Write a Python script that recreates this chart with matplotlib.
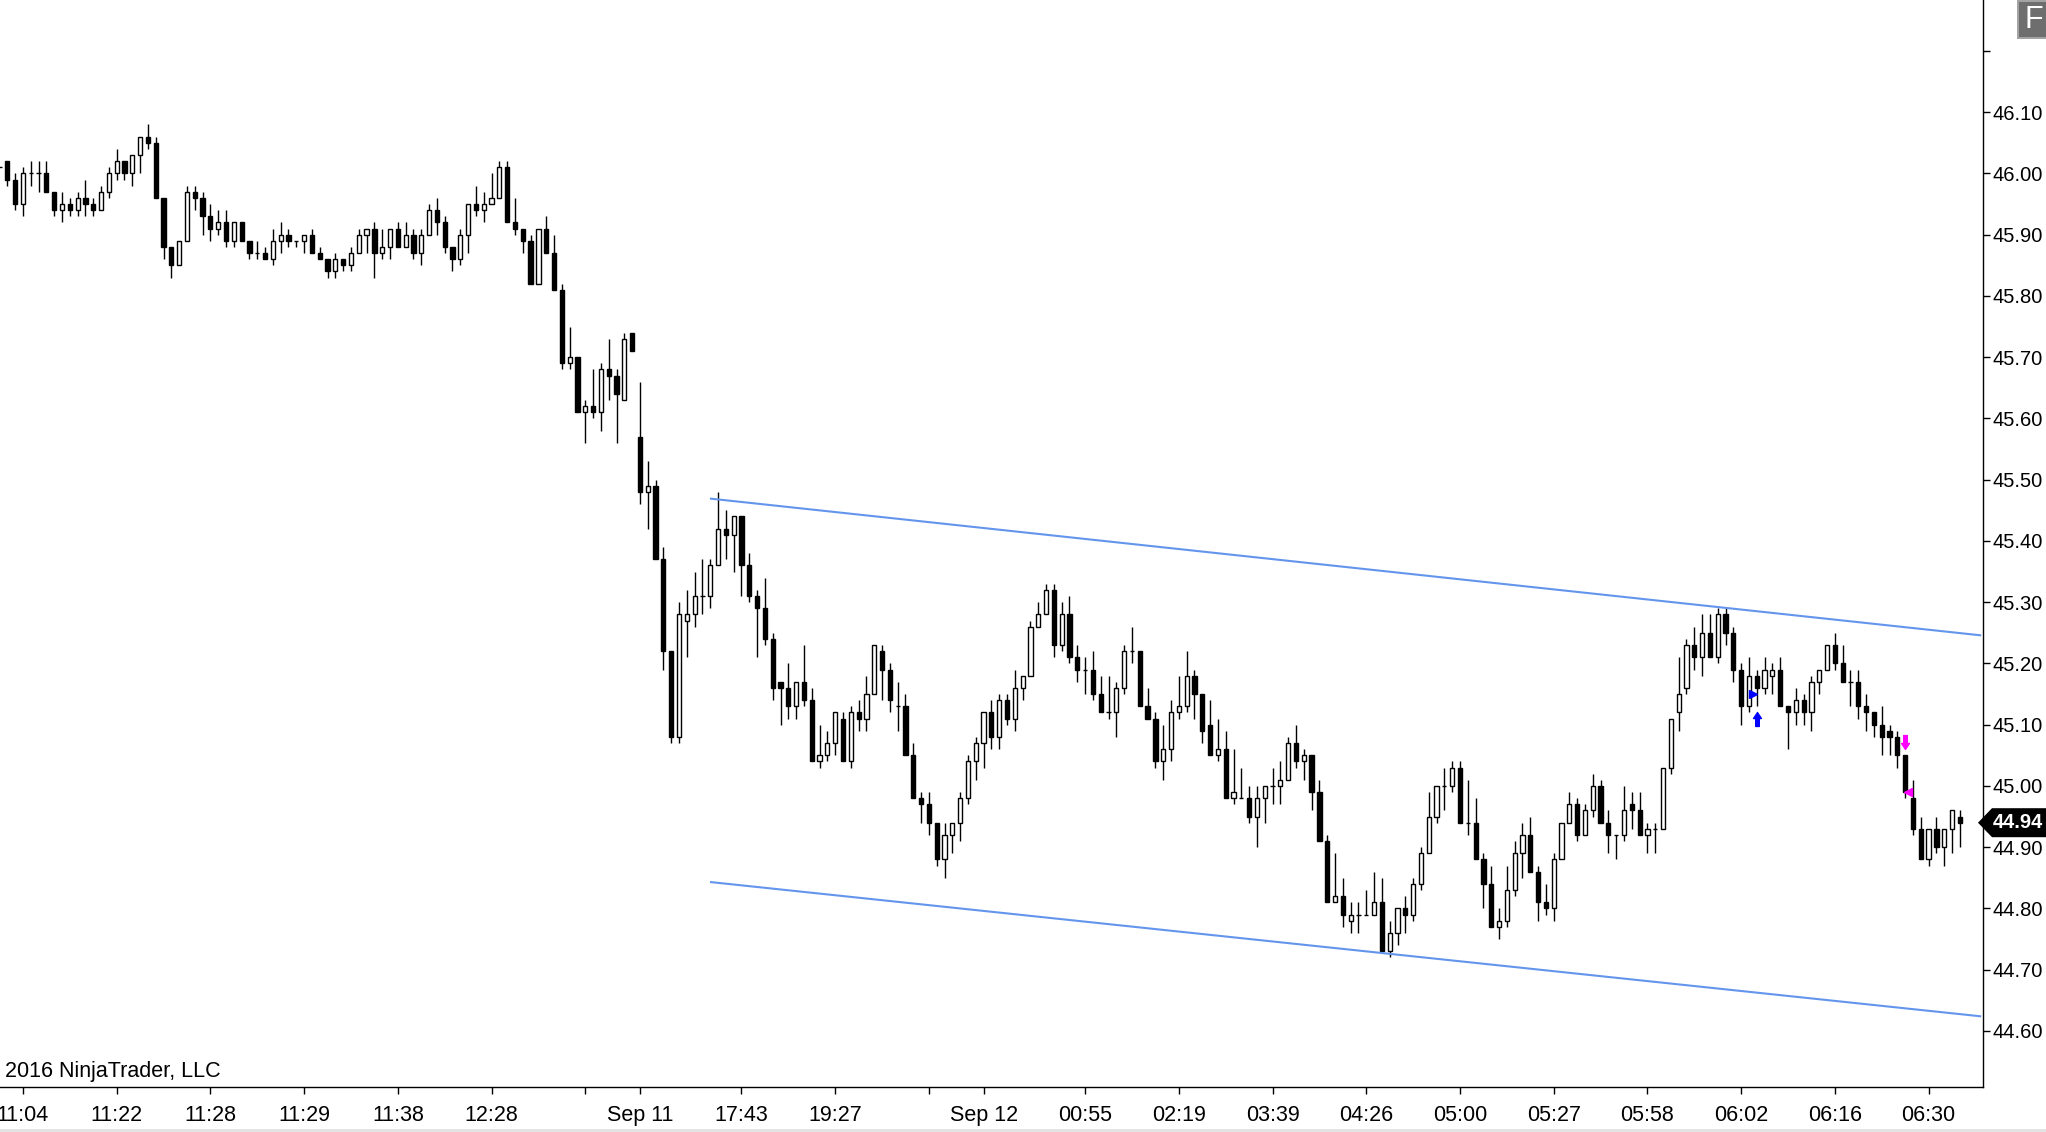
import matplotlib
matplotlib.use("Agg")
import matplotlib.pyplot as plt
import numpy as np
from matplotlib.path import Path
from matplotlib.patches import Polygon, Rectangle

plt.rcParams['font.family'] = ['Liberation Sans', 'DejaVu Sans']

# ---------------- data (OHLC, one bar per entry) ----------------
opens = [46.01, 46.02, 45.99, 45.95, 46.00, 46.00, 46.00, 45.97, 45.94, 45.95,
         45.94, 45.96, 45.95, 45.94, 45.97, 46.00, 46.02, 46.00, 46.03, 46.06,
         46.05, 45.96, 45.88, 45.85, 45.89, 45.97, 45.96, 45.93, 45.91, 45.92,
         45.89, 45.92, 45.89, 45.87, 45.87, 45.86, 45.89, 45.90, 45.89, 45.89,
         45.90, 45.87, 45.86, 45.84, 45.86, 45.85, 45.87, 45.90, 45.91, 45.87,
         45.88, 45.91, 45.88, 45.90, 45.87, 45.90, 45.94, 45.92, 45.88, 45.86,
         45.90, 45.95, 45.94, 45.95, 45.96, 46.01, 45.92, 45.91, 45.89, 45.82,
         45.91, 45.87, 45.81, 45.69, 45.70, 45.61, 45.62, 45.61, 45.68, 45.67,
         45.63, 45.74, 45.57, 45.48, 45.49, 45.37, 45.22, 45.08, 45.27, 45.28,
         45.31, 45.31, 45.36, 45.42, 45.41, 45.44, 45.36, 45.31, 45.29, 45.24,
         45.17, 45.16, 45.13, 45.17, 45.14, 45.04, 45.05, 45.07, 45.11, 45.04,
         45.12, 45.11, 45.15, 45.22, 45.19, 45.13, 45.13, 45.05, 44.98, 44.97,
         44.94, 44.88, 44.92, 44.94, 44.98, 45.04, 45.07, 45.12, 45.08, 45.14,
         45.11, 45.16, 45.18, 45.26, 45.28, 45.32, 45.23, 45.28, 45.21, 45.19,
         45.19, 45.15, 45.12, 45.12, 45.16, 45.22, 45.22, 45.13, 45.11, 45.04,
         45.06, 45.12, 45.13, 45.18, 45.15, 45.10, 45.05, 45.06, 44.98, 44.98,
         44.98, 44.95, 44.98, 45.00, 45.00, 45.01, 45.07, 45.04, 45.05, 44.99,
         44.91, 44.81, 44.82, 44.78, 44.79, 44.79, 44.79, 44.81, 44.73, 44.76,
         44.80, 44.79, 44.84, 44.89, 44.95, 45.00, 45.00, 45.03, 44.94, 44.94,
         44.88, 44.84, 44.77, 44.78, 44.83, 44.89, 44.92, 44.86, 44.81, 44.80,
         44.88, 44.94, 44.97, 44.92, 44.96, 45.00, 44.94, 44.92, 44.92, 44.97,
         44.96, 44.92, 44.93, 44.93, 45.03, 45.12, 45.16, 45.23, 45.21, 45.25,
         45.21, 45.28, 45.25, 45.19, 45.13, 45.18, 45.16, 45.18, 45.19, 45.13,
         45.12, 45.14, 45.12, 45.17, 45.19, 45.23, 45.20, 45.17, 45.17, 45.13,
         45.12, 45.10, 45.09, 45.08, 45.05, 44.98, 44.93, 44.88, 44.93, 44.90,
         44.93, 44.95]
highs = [46.01, 46.02, 46.00, 46.01, 46.02, 46.02, 46.02, 45.97, 45.97, 45.96,
         45.97, 45.99, 45.96, 45.98, 46.01, 46.04, 46.02, 46.03, 46.06, 46.08,
         46.06, 45.96, 45.88, 45.89, 45.98, 45.98, 45.97, 45.95, 45.94, 45.94,
         45.92, 45.92, 45.89, 45.89, 45.88, 45.91, 45.92, 45.91, 45.89, 45.90,
         45.91, 45.88, 45.86, 45.87, 45.86, 45.88, 45.91, 45.91, 45.92, 45.91,
         45.91, 45.92, 45.92, 45.91, 45.91, 45.95, 45.96, 45.93, 45.88, 45.91,
         45.95, 45.98, 45.97, 46.00, 46.02, 46.02, 45.96, 45.91, 45.90, 45.91,
         45.93, 45.90, 45.82, 45.75, 45.70, 45.63, 45.68, 45.69, 45.73, 45.68,
         45.74, 45.74, 45.66, 45.53, 45.50, 45.39, 45.22, 45.30, 45.32, 45.35,
         45.37, 45.37, 45.48, 45.45, 45.44, 45.44, 45.38, 45.32, 45.34, 45.25,
         45.17, 45.20, 45.17, 45.23, 45.16, 45.10, 45.09, 45.12, 45.12, 45.13,
         45.14, 45.18, 45.23, 45.23, 45.20, 45.17, 45.15, 45.07, 44.99, 44.99,
         44.94, 44.94, 44.94, 44.99, 45.05, 45.08, 45.12, 45.14, 45.15, 45.15,
         45.19, 45.18, 45.27, 45.30, 45.33, 45.33, 45.30, 45.31, 45.23, 45.21,
         45.22, 45.18, 45.18, 45.17, 45.23, 45.26, 45.22, 45.16, 45.12, 45.10,
         45.14, 45.18, 45.22, 45.19, 45.15, 45.14, 45.11, 45.09, 45.06, 45.03,
         45.00, 45.00, 45.00, 45.03, 45.04, 45.08, 45.10, 45.06, 45.05, 45.01,
         44.92, 44.89, 44.85, 44.81, 44.81, 44.83, 44.86, 44.85, 44.78, 44.80,
         44.82, 44.85, 44.90, 44.99, 45.00, 45.03, 45.04, 45.04, 45.01, 44.98,
         44.89, 44.87, 44.80, 44.87, 44.91, 44.94, 44.95, 44.87, 44.84, 44.89,
         44.94, 44.99, 44.98, 44.97, 45.02, 45.01, 44.96, 44.92, 45.00, 44.99,
         44.99, 44.94, 44.94, 45.03, 45.11, 45.21, 45.24, 45.26, 45.28, 45.28,
         45.29, 45.29, 45.26, 45.20, 45.21, 45.19, 45.21, 45.20, 45.21, 45.13,
         45.16, 45.15, 45.18, 45.19, 45.23, 45.25, 45.23, 45.19, 45.19, 45.15,
         45.12, 45.13, 45.10, 45.09, 45.05, 45.01, 44.95, 44.93, 44.95, 44.93,
         44.96, 44.96]
lows = [46.01, 45.98, 45.94, 45.93, 45.98, 45.97, 45.97, 45.93, 45.92, 45.93,
        45.93, 45.93, 45.93, 45.94, 45.96, 45.99, 45.99, 45.98, 46.00, 46.04,
        45.96, 45.86, 45.83, 45.85, 45.89, 45.94, 45.90, 45.89, 45.90, 45.88,
        45.88, 45.89, 45.86, 45.86, 45.86, 45.85, 45.87, 45.88, 45.88, 45.87,
        45.87, 45.86, 45.83, 45.83, 45.84, 45.84, 45.87, 45.87, 45.83, 45.86,
        45.86, 45.88, 45.88, 45.86, 45.85, 45.90, 45.90, 45.87, 45.84, 45.85,
        45.87, 45.93, 45.92, 45.95, 45.96, 45.92, 45.90, 45.87, 45.82, 45.82,
        45.87, 45.81, 45.68, 45.68, 45.61, 45.56, 45.60, 45.58, 45.63, 45.56,
        45.63, 45.71, 45.46, 45.42, 45.37, 45.19, 45.07, 45.07, 45.21, 45.26,
        45.28, 45.29, 45.36, 45.37, 45.35, 45.31, 45.30, 45.21, 45.23, 45.14,
        45.10, 45.11, 45.11, 45.13, 45.04, 45.03, 45.04, 45.05, 45.04, 45.03,
        45.09, 45.09, 45.15, 45.14, 45.12, 45.09, 45.05, 44.98, 44.94, 44.92,
        44.87, 44.85, 44.89, 44.91, 44.97, 45.01, 45.03, 45.06, 45.06, 45.10,
        45.09, 45.14, 45.18, 45.26, 45.28, 45.21, 45.22, 45.20, 45.17, 45.15,
        45.14, 45.12, 45.11, 45.08, 45.15, 45.20, 45.13, 45.11, 45.03, 45.01,
        45.04, 45.11, 45.12, 45.11, 45.07, 45.05, 45.04, 44.98, 44.97, 44.98,
        44.94, 44.90, 44.94, 44.97, 44.97, 45.01, 45.03, 45.01, 44.96, 44.91,
        44.81, 44.81, 44.77, 44.76, 44.76, 44.79, 44.79, 44.73, 44.72, 44.74,
        44.76, 44.78, 44.83, 44.89, 44.94, 44.96, 44.99, 44.94, 44.92, 44.88,
        44.80, 44.77, 44.75, 44.77, 44.82, 44.85, 44.86, 44.78, 44.79, 44.78,
        44.88, 44.94, 44.91, 44.92, 44.95, 44.94, 44.89, 44.88, 44.91, 44.93,
        44.92, 44.89, 44.89, 44.93, 45.02, 45.09, 45.15, 45.19, 45.18, 45.21,
        45.20, 45.23, 45.17, 45.10, 45.12, 45.13, 45.15, 45.15, 45.13, 45.06,
        45.10, 45.10, 45.09, 45.15, 45.19, 45.19, 45.17, 45.13, 45.11, 45.09,
        45.08, 45.05, 45.05, 45.03, 44.98, 44.92, 44.88, 44.87, 44.89, 44.87,
        44.89, 44.90]
closes = [46.01, 45.99, 45.95, 46.00, 46.00, 46.00, 45.97, 45.94, 45.95, 45.94,
          45.96, 45.95, 45.94, 45.97, 46.00, 46.02, 46.00, 46.03, 46.06, 46.05,
          45.96, 45.88, 45.85, 45.89, 45.97, 45.96, 45.93, 45.91, 45.92, 45.89,
          45.92, 45.89, 45.87, 45.87, 45.86, 45.89, 45.90, 45.89, 45.89, 45.90,
          45.87, 45.86, 45.84, 45.86, 45.85, 45.87, 45.90, 45.91, 45.87, 45.88,
          45.91, 45.88, 45.90, 45.87, 45.90, 45.94, 45.92, 45.88, 45.86, 45.90,
          45.95, 45.94, 45.95, 45.96, 46.01, 45.92, 45.91, 45.89, 45.82, 45.91,
          45.87, 45.81, 45.69, 45.70, 45.61, 45.62, 45.61, 45.68, 45.67, 45.64,
          45.73, 45.71, 45.48, 45.49, 45.37, 45.22, 45.08, 45.28, 45.28, 45.31,
          45.31, 45.36, 45.42, 45.41, 45.44, 45.36, 45.31, 45.29, 45.24, 45.16,
          45.16, 45.13, 45.17, 45.14, 45.04, 45.05, 45.07, 45.12, 45.04, 45.12,
          45.11, 45.15, 45.23, 45.19, 45.14, 45.13, 45.05, 44.98, 44.97, 44.94,
          44.88, 44.92, 44.94, 44.98, 45.04, 45.07, 45.12, 45.08, 45.14, 45.11,
          45.16, 45.18, 45.26, 45.28, 45.32, 45.23, 45.28, 45.21, 45.19, 45.19,
          45.15, 45.12, 45.12, 45.16, 45.22, 45.22, 45.13, 45.11, 45.04, 45.06,
          45.12, 45.13, 45.18, 45.15, 45.09, 45.05, 45.06, 44.98, 44.99, 44.98,
          44.95, 44.98, 45.00, 45.00, 45.01, 45.07, 45.04, 45.05, 44.99, 44.91,
          44.81, 44.82, 44.79, 44.79, 44.79, 44.79, 44.81, 44.73, 44.76, 44.80,
          44.79, 44.84, 44.89, 44.95, 45.00, 45.00, 45.03, 44.94, 44.94, 44.88,
          44.84, 44.77, 44.78, 44.83, 44.89, 44.92, 44.86, 44.81, 44.80, 44.88,
          44.94, 44.97, 44.92, 44.96, 45.00, 44.94, 44.92, 44.92, 44.96, 44.96,
          44.92, 44.93, 44.93, 45.03, 45.11, 45.15, 45.23, 45.21, 45.25, 45.21,
          45.28, 45.25, 45.19, 45.13, 45.18, 45.16, 45.19, 45.19, 45.13, 45.12,
          45.14, 45.12, 45.17, 45.19, 45.23, 45.20, 45.17, 45.17, 45.13, 45.12,
          45.10, 45.08, 45.08, 45.05, 44.99, 44.93, 44.88, 44.93, 44.90, 44.93,
          44.96, 44.94]

# x-axis ticks (bar index) and their labels ('' = tick without label)
tick_bars = [3, 15, 27, 39, 51, 63, 75, 82, 95, 107, 119, 126,
             139, 151, 163, 175, 187, 199, 211, 223, 235, 247]
tick_labels = ['11:04', '11:22', '11:28', '11:29', '11:38', '12:28', '', 'Sep 11',
               '17:43', '19:27', '', 'Sep 12', '00:55', '02:19', '03:39', '04:26',
               '05:00', '05:27', '05:58', '06:02', '06:16', '06:30']

# price axis
price_ticks = [44.60, 44.70, 44.80, 44.90, 45.00, 45.10, 45.20, 45.30, 45.40,
               45.50, 45.60, 45.70, 45.80, 45.90, 46.00, 46.10, 46.20]
price_labels = ['44.60', '44.70', '44.80', '44.90', '45.00', '45.10', '45.20',
                '45.30', '45.40', '45.50', '45.60', '45.70', '45.80', '45.90',
                '46.00', '46.10', '']

# regression channel (bar index, price)
channel_x = [91.1, 253.6]
channel_upper = [45.469, 45.246]
channel_lower = [44.843, 44.624]

# trade markers
entry_bar, entry_price = 224.56, 45.15
exit_bar, exit_price = 244.38, 44.99
long_arrow_bar, long_arrow_price = 225.0, 45.11
short_arrow_bar, short_arrow_price = 244.0, 45.072
last_price = 44.94

# ---------------- figure ----------------
W, H = 2046, 1132
fig = plt.figure(figsize=(W / 100, H / 100), dpi=100)
ax_right, ax_bottom = 1983, 1087
ax = fig.add_axes([0, (H - ax_bottom) / H, ax_right / W, ax_bottom / H])

o = np.array(opens); h = np.array(highs); l = np.array(lows); c = np.array(closes)
x = np.arange(len(o))
up = c >= o

ax.vlines(x, l, h, color='black', linewidth=1.0, zorder=2)
body_w = 0.54
bottoms = np.minimum(o, c)
heights = np.abs(c - o)
ax.bar(x[up], heights[up], bottom=bottoms[up], width=body_w, color='white',
       edgecolor='black', linewidth=1.0, zorder=3)
ax.bar(x[~up], heights[~up], bottom=bottoms[~up], width=body_w, color='black',
       edgecolor='black', linewidth=1.0, zorder=3)

ax.plot(channel_x, channel_upper, color='#6495ED', linewidth=1.5, zorder=4)
ax.plot(channel_x, channel_lower, color='#6495ED', linewidth=1.5, zorder=4)

# arrow markers
up_arrow = Path([(-0.26, -1), (0.26, -1), (0.26, 0.14), (0.57, 0.14), (0, 1),
                 (-0.57, 0.14), (-0.26, 0.14), (-0.26, -1)], closed=True)
down_arrow = Path([(px, -py) for px, py in up_arrow.vertices], closed=True)
ax.plot([long_arrow_bar], [long_arrow_price], marker=up_arrow, markersize=10,
        color='#0000FF', linestyle='none', zorder=5)
ax.plot([short_arrow_bar], [short_arrow_price], marker=down_arrow, markersize=10,
        color='#FF00FF', linestyle='none', zorder=5)
ax.plot([entry_bar], [entry_price], marker='>', markersize=5.5, color='#0000FF',
        linestyle='none', zorder=5)
ax.plot([exit_bar], [exit_price], marker='<', markersize=5.5, color='#FF00FF',
        linestyle='none', zorder=5)

# limits
ppx = 1 / 612.5
ax.set_ylim(46.10 - (ax_bottom - 112.2) * ppx, 46.10 + 112.2 * ppx)
ax.set_xlim(0.48 / 7.81, (ax_right + 0.48) / 7.81)

for s in ['top', 'left']:
    ax.spines[s].set_visible(False)
for s in ['right', 'bottom']:
    ax.spines[s].set_color('black')
    ax.spines[s].set_linewidth(1.0)

ax.yaxis.tick_right()
ax.set_yticks(price_ticks)
ax.set_yticklabels(price_labels)
ax.set_xticks(tick_bars)
ax.set_xticklabels(tick_labels)
ax.tick_params(axis='both', direction='out', length=5, width=1.0, colors='black')
ax.tick_params(axis='y', pad=2, labelsize=14.5)
ax.tick_params(axis='x', pad=8, labelsize=15.5)

fig.text(5 / W, (H - 1072) / H, '2016 NinjaTrader, LLC', fontsize=15.5,
         ha='left', va='center', color='black')

# last price marker
fig.canvas.draw()
yc = ax.transData.transform((0, last_price))[1]
poly = Polygon([(1978, yc), (1992, yc + 14.5), (2046, yc + 14.5),
                (2046, yc - 14.5), (1992, yc - 14.5)], closed=True,
               facecolor='black', edgecolor='none', transform=None, zorder=10)
fig.patches.append(poly)
fig.text(2018 / W, yc / H, f'{last_price:.2f}', color='white', fontsize=14.5,
         fontweight='bold', ha='center', va='center', zorder=11)

# "F" box top right
fig.patches.append(Rectangle((2017, H - 39), 29, 39, facecolor='#a3a3a3',
                             edgecolor='none', transform=None, zorder=10))
fig.patches.append(Rectangle((2019, H - 37), 27, 35, facecolor='#6e6e6e',
                             edgecolor='none', transform=None, zorder=11))
fig.text(2033.5 / W, (H - 19.5) / H, 'F', color='white', fontsize=22,
         ha='center', va='center', zorder=12)

# bottom strip
fig.patches.append(Rectangle((0, 0), W, 3, facecolor='#e3e3e3', edgecolor='none',
                             transform=None, zorder=10))

fig.savefig('out.png', dpi=100)
